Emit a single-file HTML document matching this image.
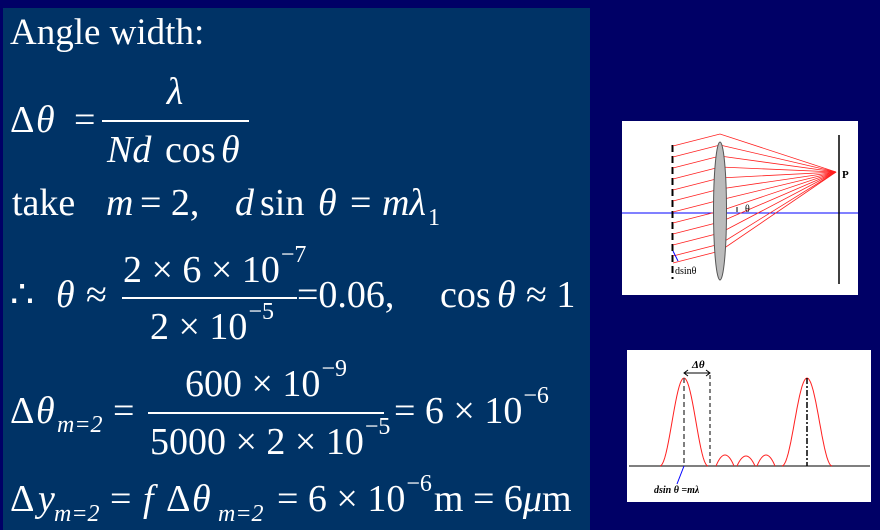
<!DOCTYPE html>
<html><head><meta charset="utf-8">
<style>
html,body{margin:0;padding:0;background:#000066;}
svg{display:block;}
.t text{font-family:"Liberation Serif",serif;fill:#fff;white-space:pre;}
.i{font-style:italic;}
</style></head>
<body>
<svg width="880" height="530" viewBox="0 0 880 530">
<rect x="0" y="0" width="880" height="530" fill="#000066"/>
<rect x="3" y="8" width="587" height="522" fill="#003366"/>

<g class="t" font-size="38">
<text x="10" y="44" font-size="37">Angle width:</text>

<text x="10" y="132">Δ</text>
<text x="36" y="132" class="i">θ</text>
<text x="74" y="132">=</text>
<text x="175" y="104" text-anchor="middle" class="i">λ</text>
<rect x="102" y="120" width="147" height="2" fill="#fff"/>
<text x="107" y="162" class="i">Nd</text>
<text x="165" y="162">cos</text>
<text x="221" y="162" class="i">θ</text>

<text x="12" y="215">take</text>
<text x="106" y="215" class="i">m</text>
<text x="140" y="215">= 2,</text>
<text x="235" y="215" class="i">d</text>
<text x="260" y="215">sin</text>
<text x="318" y="215" class="i">θ</text>
<text x="350" y="215">=</text>
<text x="382" y="215" class="i">mλ</text>
<text x="428" y="225" font-size="24">1</text>

<text x="10" y="307">∴</text>
<text x="56" y="307" class="i">θ</text>
<text x="86" y="307">≈</text>
<text x="123" y="282">2 × 6 × 10<tspan dx="1" dy="-20" font-size="24">−7</tspan></text>
<rect x="122" y="297" width="175" height="2" fill="#fff"/>
<text x="150" y="339">2 × 10<tspan dx="1" dy="-20" font-size="24">−5</tspan></text>
<text x="297" y="307">=0.06,</text>
<text x="440" y="307">cos</text>
<text x="497" y="307" class="i">θ</text>
<text x="526" y="307">≈ 1</text>

<text x="10" y="423">Δ</text>
<text x="36" y="423" class="i">θ</text>
<text x="57" y="432" font-size="24" class="i">m=2</text>
<text x="113" y="423">=</text>
<text x="185" y="396">600 × 10<tspan dx="1" dy="-20" font-size="24">−9</tspan></text>
<rect x="148" y="412" width="236" height="2" fill="#fff"/>
<text x="150" y="454">5000 × 2 × 10<tspan dx="1" dy="-20" font-size="24">−5</tspan></text>
<text x="394" y="423">= 6 × 10<tspan dx="1" dy="-20" font-size="24">−6</tspan></text>

<text x="10" y="511">Δ</text>
<text x="38" y="511" class="i">y</text>
<text x="54" y="521" font-size="24" class="i">m=2</text>
<text x="110" y="511">=</text>
<text x="143" y="511" class="i">f</text>
<text x="166" y="511">Δ</text>
<text x="192" y="511" class="i">θ</text>
<text x="218" y="521" font-size="24" class="i">m=2</text>
<text x="277" y="511">= 6 × 10<tspan dx="1" dy="-20" font-size="24">−6</tspan><tspan dx="2" dy="20" font-size="38">m = 6</tspan><tspan font-style="italic" font-size="38">μ</tspan><tspan font-size="38">m</tspan></text>
</g>

<!-- Diagram 1: grating + lens -->
<g>
<rect x="622" y="121" width="236" height="174" fill="#fff"/>
<line x1="622" y1="213" x2="858" y2="213" stroke="#0000ff" stroke-width="1"/>
<line x1="672.5" y1="145" x2="672.5" y2="279" stroke="#000" stroke-width="2" stroke-dasharray="7,4"/>
<g id="rays"></g>
<ellipse cx="720" cy="211" rx="6.5" ry="69" fill="#bbb" stroke="#555" stroke-width="1"/>
<line x1="839" y1="135" x2="839" y2="284" stroke="#000" stroke-width="1.5"/>
<text x="842" y="178" font-family="Liberation Serif,serif" font-size="11" font-weight="bold">P</text>
<text x="745" y="212" font-family="Liberation Serif,serif" font-size="10">θ</text>
<line x1="737" y1="207" x2="737" y2="212" stroke="#000" stroke-width="1"/>
<line x1="673" y1="251" x2="678" y2="261" stroke="#0000ff" stroke-width="1"/>
<text x="675" y="274" font-family="Liberation Serif,serif" font-size="10">dsinθ</text>
</g>

<!-- Diagram 2: intensity pattern -->
<g>
<rect x="627" y="350" width="244" height="152" fill="#fff"/>
<line x1="629" y1="466" x2="870" y2="466" stroke="#555" stroke-width="1.5"/>
<g id="curve"></g>
<line x1="684" y1="378" x2="684" y2="466" stroke="#555" stroke-width="1.5" stroke-dasharray="5,3"/>
<line x1="710" y1="375" x2="710" y2="466" stroke="#000" stroke-width="1" stroke-dasharray="4,3"/>
<line x1="807" y1="378" x2="807" y2="466" stroke="#000" stroke-width="1.5" stroke-dasharray="6,2,2,2"/>
<line x1="684" y1="373" x2="710" y2="373" stroke="#000" stroke-width="1"/>
<path d="M688 370 L684 373 L688 376 M706 370 L710 373 L706 376" fill="none" stroke="#000" stroke-width="1"/>
<text x="692" y="368" font-family="Liberation Serif,serif" font-size="11" font-weight="bold" font-style="italic">Δθ</text>
<line x1="684" y1="466" x2="677" y2="484" stroke="#0000ff" stroke-width="1"/>
<text x="654" y="493" font-family="Liberation Serif,serif" font-size="10" font-weight="bold" font-style="italic">dsin θ =mλ</text>
</g>

<script>
// grating rays: slit y positions and screen focal point
const slitYs = [146, 157, 168, 179, 190, 201, 212, 223, 234, 245, 256, 263];
const focus = [836, 172];
const rg = document.getElementById('rays');
const NS = 'http://www.w3.org/2000/svg';
slitYs.forEach((y, i) => {
  const ly = y - 12;
  const p = document.createElementNS(NS, 'polyline');
  p.setAttribute('points', `673,${y} 720,${ly} ${focus[0]},${focus[1]}`);
  p.setAttribute('fill', 'none');
  p.setAttribute('stroke', '#ff2020');
  p.setAttribute('stroke-width', '0.8');
  
  
  rg.appendChild(p);
});

// intensity pattern: peak positions (x) and heights
const peakX = [684, 807];
const peakH = [88, 88];
const peakHalfWidth = [24, 25];
const bumpX = [725, 746, 766];
const bumpH = [11, 10, 11];
const base = 466;
const cg = document.getElementById('curve');
function addPath(d, name) {
  const p = document.createElementNS(NS, 'path');
  p.setAttribute('d', d);
  p.setAttribute('fill', 'none');
  p.setAttribute('stroke', '#ff2020');
  p.setAttribute('stroke-width', '1');
  
  
  cg.appendChild(p);
}
peakX.forEach((x, i) => {
  const w = peakHalfWidth[i], h = peakH[i];
  let d = '';
  for (let k = 0; k <= 40; k++) {
    const u = -1 + k / 20;
    const v = Math.cos(u * Math.PI / 2);
    const px = x + u * w, py = base - h * v * v;
    d += (k ? 'L' : 'M') + px.toFixed(1) + ' ' + py.toFixed(1);
  }
  addPath(d, 'principal-peak');
});
bumpX.forEach((x, i) => {
  const w = 9, h = bumpH[i];
  addPath(`M${x - w} ${base} Q${x} ${base - 2 * h} ${x + w} ${base}`, 'secondary-max');
});
</script>
</svg>
</body></html>
